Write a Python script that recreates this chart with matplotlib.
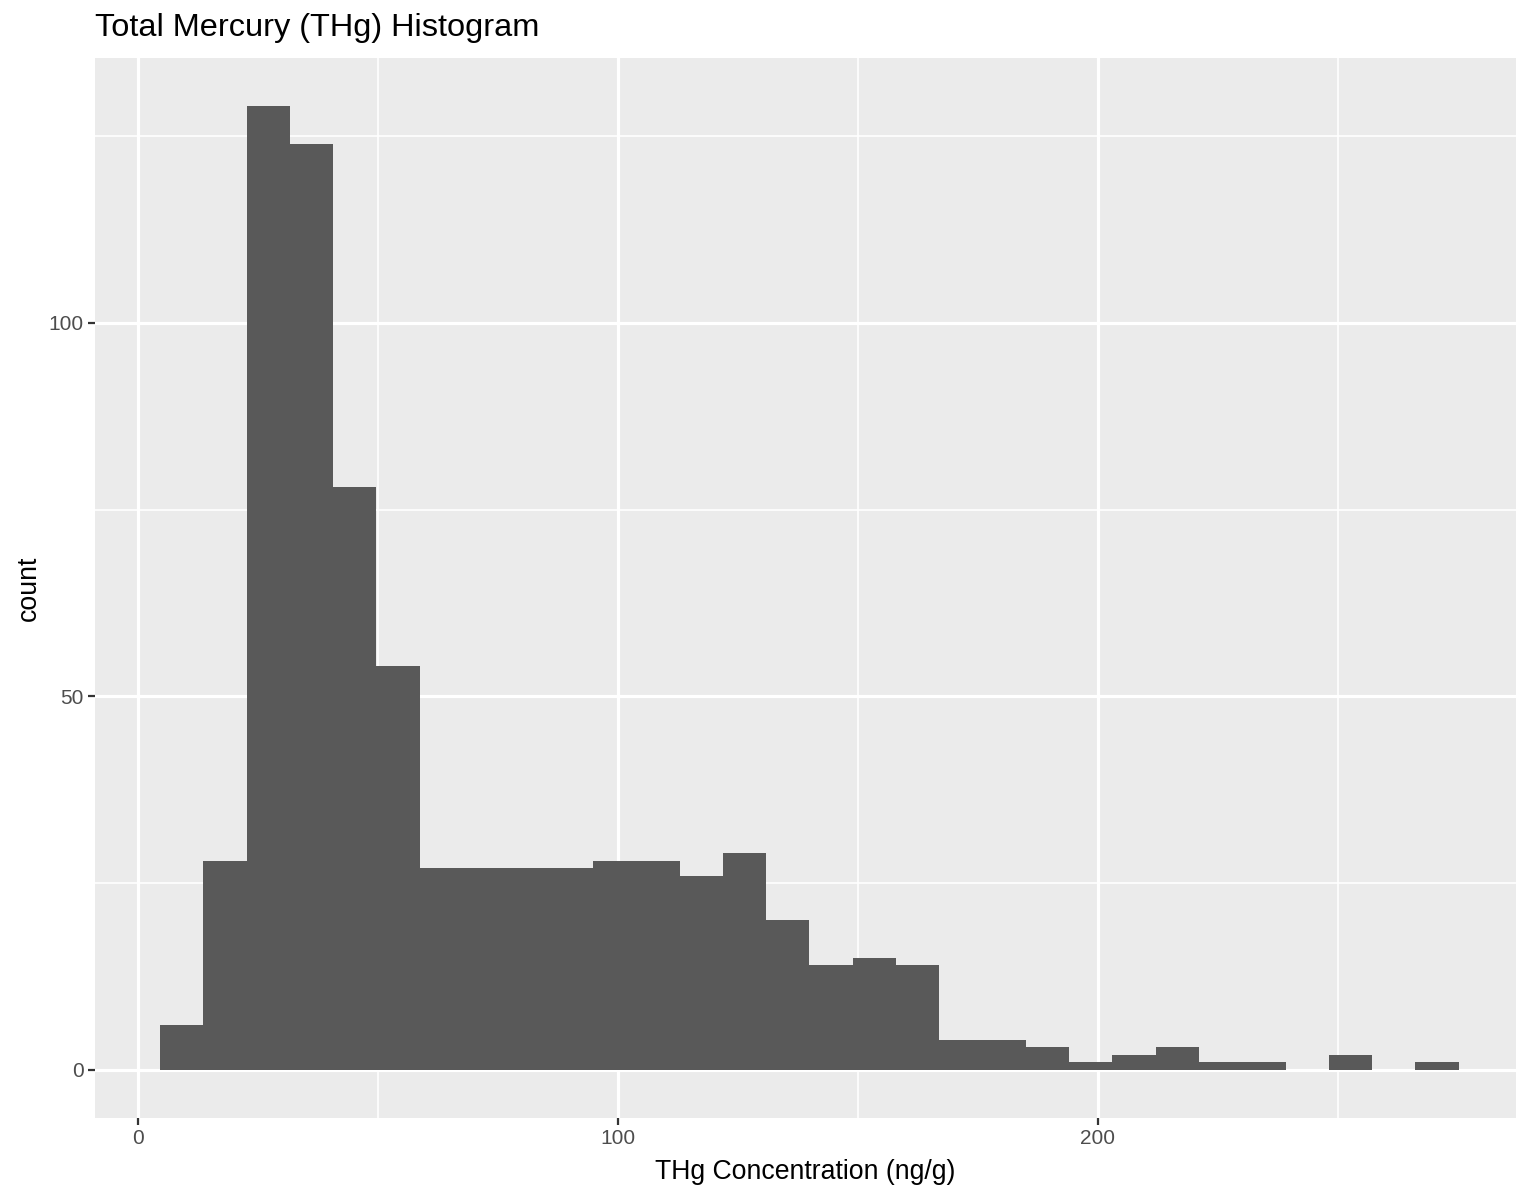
import matplotlib
matplotlib.use("Agg")
import matplotlib.pyplot as plt
import numpy as np

# Histogram data (30 bins, ggplot default)
bin_start = 4.58
bin_width = 9.02
counts = [6, 28, 129, 124, 78, 54, 27, 27, 27, 27,
          28, 28, 26, 29, 20, 14, 15, 14, 4, 4,
          3, 1, 2, 3, 1, 1, 0, 2, 0, 1]
x_major = [0, 100, 200]
x_minor = [50, 150, 250]
y_major = [0, 50, 100]
y_minor = [25, 75, 125]

title = "Total Mercury (THg) Histogram"
xlabel = "THg Concentration (ng/g)"
ylabel = "count"

W, H = 1516, 1191
fig = plt.figure(figsize=(W / 100, H / 100), dpi=100)
plt.rcParams['font.family'] = ['Liberation Sans', 'DejaVu Sans']

left, right, top, bottom = 95, 1516, 58, 1118
ax = fig.add_axes([left / W, 1 - bottom / H, (right - left) / W, (bottom - top) / H])
ax.set_facecolor('#EBEBEB')
for s in ax.spines.values():
    s.set_visible(False)

edges = bin_start + bin_width * np.arange(len(counts))
ax.bar(edges, counts, width=bin_width, align='edge', color='#595959',
       edgecolor='none', zorder=3)

ax.set_xlim(-8.96, 287.1)
ax.set_ylim(-6.45, 135.45)

for v in x_minor:
    ax.axvline(v, color='white', lw=1.2, zorder=1)
for v in y_minor:
    ax.axhline(v, color='white', lw=1.2, zorder=1)
for v in x_major:
    ax.axvline(v, color='white', lw=2.3, zorder=1)
for v in y_major:
    ax.axhline(v, color='white', lw=2.3, zorder=1)

ax.set_xticks(x_major)
ax.set_yticks(y_major)
ax.set_xticklabels([str(v) for v in x_major])
ax.set_yticklabels([str(v) for v in y_major])
ax.tick_params(axis='both', length=5, width=1.6, color='#333333',
               labelcolor='#4D4D4D', labelsize=15, pad=3)

ax.set_xlabel(xlabel, fontsize=19.2, color='black', labelpad=8)
ax.set_ylabel(ylabel, fontsize=19.2, color='black', labelpad=5)

fig.text(left / W, 1 - 36 / H, title, fontsize=23.4, color='black',
         ha='left', va='baseline')

fig.savefig('out.png', dpi=100, facecolor='white')
